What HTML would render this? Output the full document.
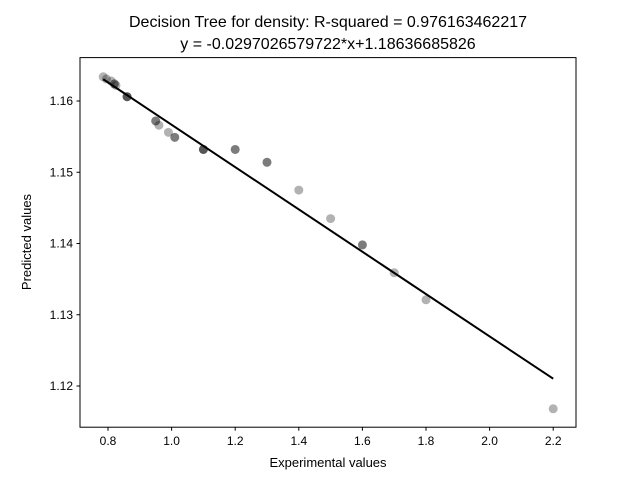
<!DOCTYPE html>
<html><head><meta charset="utf-8"><style>
body{margin:0;background:#fff;}
svg text{font-family:"Liberation Sans","DejaVu Sans",sans-serif;}
</style></head><body>
<svg id="chart" width="640" height="480" xmlns="http://www.w3.org/2000/svg">
<rect width="640" height="480" fill="#fff"/>
<text x="328" y="27" font-size="16" text-anchor="middle">Decision Tree for density: R-squared = 0.976163462217</text>
<text x="328" y="49" font-size="16" text-anchor="middle">y = -0.0297026579722*x+1.18636685826</text>
<g id="plot"></g>
<rect x="80" y="57.6" width="496" height="369.6" fill="none" stroke="#000" stroke-width="1"/>
<text x="328" y="467" font-size="13" text-anchor="middle">Experimental values</text>
<text transform="translate(31,242) rotate(-90)" font-size="13" text-anchor="middle">Predicted values</text>
</svg>
<script>
const xVals=[0.785,0.795,0.81,0.82,0.82,0.825,0.86,0.86,0.86,0.95,0.95,0.96,0.99,1.01,1.01,1.1,1.1,1.1,1.2,1.2,1.3,1.3,1.4,1.5,1.6,1.6,1.7,1.8,2.2];
const yVals=[1.1634,1.1631,1.1628,1.1624,1.1624,1.1622,1.1606,1.1606,1.1606,1.1572,1.1572,1.1566,1.1556,1.1549,1.1549,1.1532,1.1532,1.1532,1.1532,1.1532,1.1514,1.1514,1.1475,1.1435,1.1398,1.1398,1.1359,1.1321,1.1168];
const xTicks=[0.8,1.0,1.2,1.4,1.6,1.8,2.0,2.2];
const yTicks=[1.12,1.13,1.14,1.15,1.16];
const slope=-0.0297026579722, intercept=1.18636685826;
const NS="http://www.w3.org/2000/svg";
const sx=v=>108+(v-0.8)*318;
const sy=v=>101-(v-1.16)*7125;
const g=document.getElementById('plot');
function mk(t,a){const e=document.createElementNS(NS,t);for(const k in a)e.setAttribute(k,a[k]);g.appendChild(e);return e;}
xTicks.forEach(t=>{
 const l=mk('line',{x1:sx(t),x2:sx(t),y1:427.2,y2:430.7,stroke:'#000'});
 
 
 const tx=mk('text',{x:sx(t),y:445,'font-size':'12','text-anchor':'middle'});tx.textContent=t.toFixed(1);
 
 
});
yTicks.forEach(t=>{
 const l=mk('line',{x1:76.5,x2:80,y1:sy(t),y2:sy(t),stroke:'#000'});
 
 
 const tx=mk('text',{x:73,y:sy(t)+4,'font-size':'12','text-anchor':'end'});tx.textContent=t.toFixed(2);
 
 
});
xVals.forEach((x,i)=>{
 const c=mk('circle',{cx:sx(x),cy:sy(yVals[i]),r:4.5,fill:'#000','fill-opacity':0.3});
 
 
});
const x0=Math.min(...xVals),x1=Math.max(...xVals);
const ln=mk('line',{x1:sx(x0),y1:sy(slope*x0+intercept),x2:sx(x1),y2:sy(slope*x1+intercept),stroke:'#000','stroke-width':2});


</script>
</body></html>
